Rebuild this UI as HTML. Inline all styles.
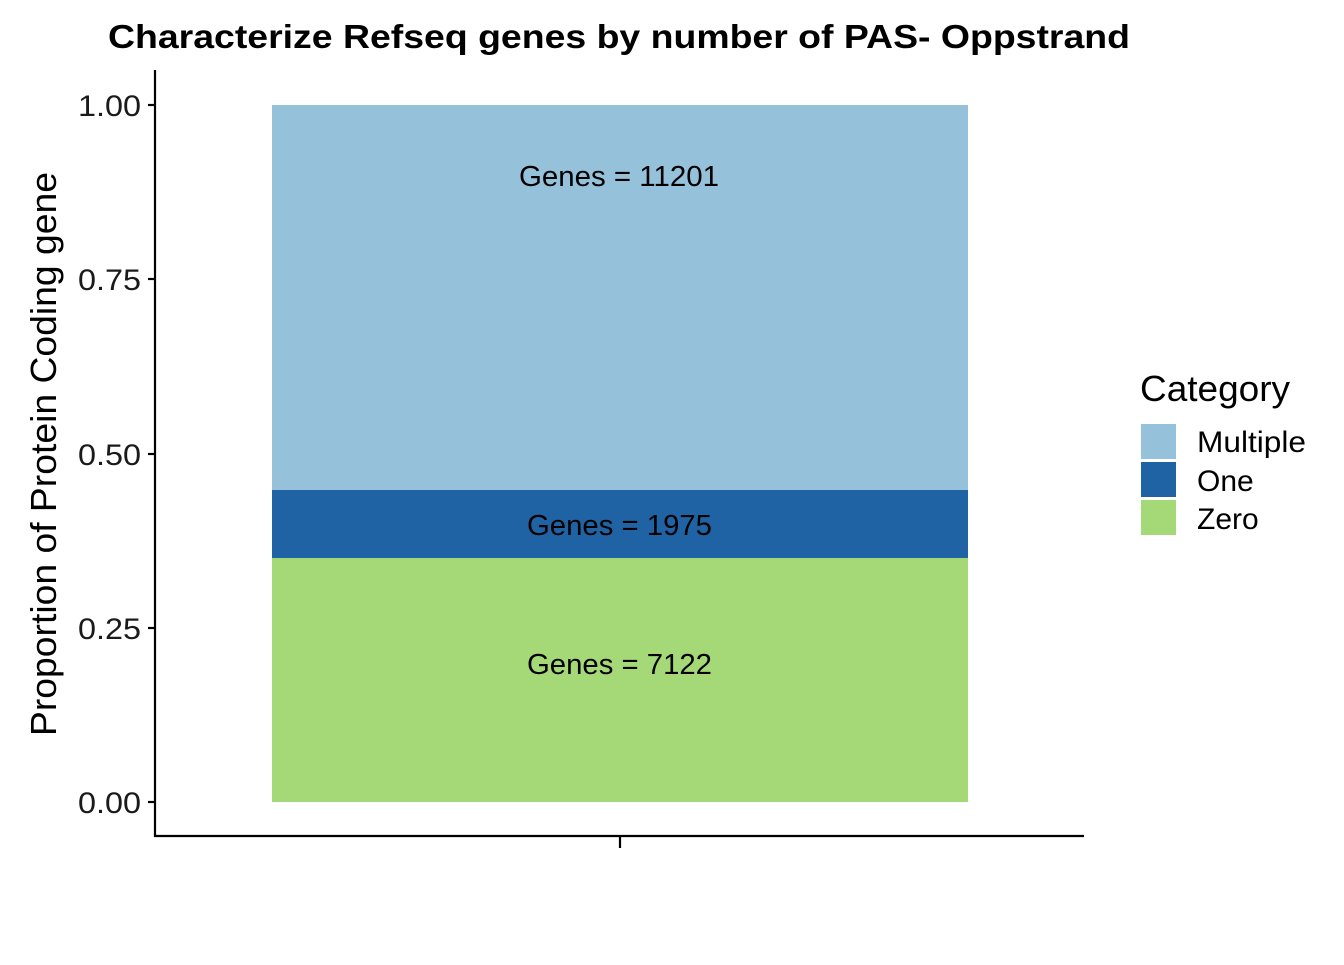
<!DOCTYPE html>
<html><head><meta charset="utf-8"><style>body{margin:0;background:#fff}</style></head><body>
<svg width="1344" height="960" xmlns="http://www.w3.org/2000/svg" font-family="Liberation Sans, Arial, sans-serif">
<rect width="1344" height="960" fill="#fff"/>
<text x="108" y="48" font-size="33" font-weight="bold" textLength="1022" lengthAdjust="spacingAndGlyphs">Characterize Refseq genes by number of PAS- Oppstrand</text>
<rect x="272" y="105" width="696" height="385" fill="#96c1da"/>
<rect x="272" y="490" width="696" height="68" fill="#1f63a5"/>
<rect x="272" y="558" width="696" height="244" fill="#a5d977"/>
<g font-size="29" fill="#000">
<text x="519" y="186" textLength="200" lengthAdjust="spacingAndGlyphs">Genes = 11201</text>
<text x="527" y="535" textLength="185" lengthAdjust="spacingAndGlyphs">Genes = 1975</text>
<text x="527" y="674" textLength="185" lengthAdjust="spacingAndGlyphs">Genes = 7122</text>
</g>
<g stroke="#000" stroke-width="2.2" fill="none">
<line x1="155" y1="70" x2="155" y2="837"/>
<line x1="154" y1="836" x2="1084" y2="836"/>
<line x1="620" y1="836" x2="620" y2="848"/>
<line x1="148" y1="105" x2="155" y2="105"/>
<line x1="148" y1="279" x2="155" y2="279"/>
<line x1="148" y1="454" x2="155" y2="454"/>
<line x1="148" y1="628" x2="155" y2="628"/>
<line x1="148" y1="802" x2="155" y2="802"/>
</g>
<g font-size="30" fill="#1a1a1a">
<text x="78" y="116" textLength="63" lengthAdjust="spacingAndGlyphs">1.00</text>
<text x="78" y="290" textLength="63" lengthAdjust="spacingAndGlyphs">0.75</text>
<text x="78" y="465" textLength="63" lengthAdjust="spacingAndGlyphs">0.50</text>
<text x="78" y="639" textLength="63" lengthAdjust="spacingAndGlyphs">0.25</text>
<text x="78" y="813" textLength="63" lengthAdjust="spacingAndGlyphs">0.00</text>
</g>
<text transform="translate(56,736) rotate(-90)" font-size="36" textLength="564" lengthAdjust="spacingAndGlyphs">Proportion of Protein Coding gene</text>
<text x="1140" y="401" font-size="36" textLength="150" lengthAdjust="spacingAndGlyphs">Category</text>
<rect x="1141" y="424" width="35" height="35" fill="#96c1da"/>
<rect x="1141" y="462" width="35" height="35" fill="#1f63a5"/>
<rect x="1141" y="500" width="35" height="35" fill="#a5d977"/>
<g font-size="30">
<text x="1197" y="452" textLength="109" lengthAdjust="spacingAndGlyphs">Multiple</text>
<text x="1197" y="491">One</text>
<text x="1197" y="529">Zero</text>
</g>
</svg>
</body></html>
